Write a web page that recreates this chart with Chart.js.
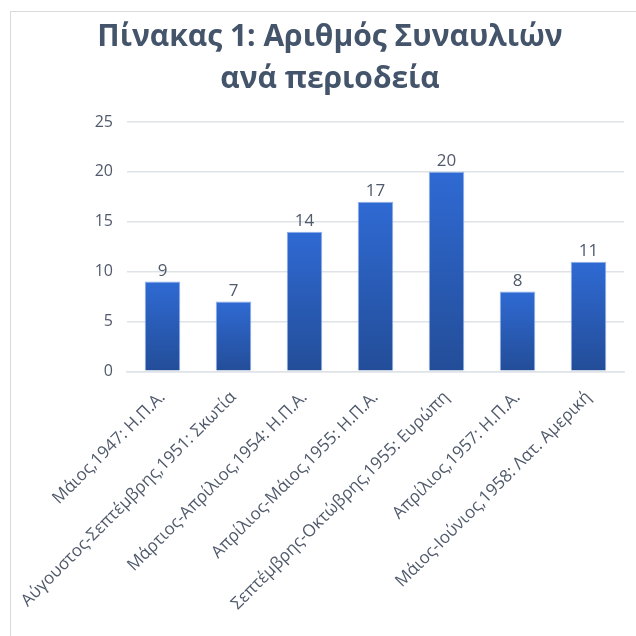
<!DOCTYPE html>
<html>
<head>
<meta charset="utf-8">
<script src="https://cdn.jsdelivr.net/npm/chart.js@4"></script>
<style>
  html, body { margin: 0; padding: 0; background: #fff; }
  #wrap { position: relative; width: 636px; height: 636px; }
  #frame { position: absolute; left: 10px; top: 11px; right: 0; bottom: 0; border-top: 1px solid #d9d9d9; border-left: 1px solid #d9d9d9; }
  canvas { position: absolute; left: 0; top: 0; }
</style>
</head>
<body>
<div id="wrap">
  <div id="frame"></div>
  <canvas id="chart" width="636" height="636"></canvas>
</div>
<script>
// Περιοδείες και αριθμός συναυλιών
const tours = [
  "Μάιος,1947: Η.Π.Α.",
  "Αύγουστος-Σεπτέμβρης,1951: Σκωτία",
  "Μάρτιος-Απρίλιος,1954: Η.Π.Α.",
  "Απρίλιος-Μάιος,1955: Η.Π.Α.",
  "Σεπτέμβρης-Οκτώβρης,1955: Ευρώπη",
  "Απρίλιος,1957: Η.Π.Α.",
  "Μάιος-Ιούνιος,1958: Λατ. Αμερική"
];
const concerts = [9, 7, 14, 17, 20, 8, 11];
const titleLines = ["Πίνακας 1: Αριθμός Συναυλιών", "ανά περιοδεία"];

const textColor = "#505a6b";
const fontFamily = "'Open Sans', 'Noto Sans', sans-serif";

// κάθε στήλη έχει δικό της gradient (πάνω ανοιχτό, κάτω σκούρο)
function barGradient(c) {
  const chart = c.chart;
  if (!chart.chartArea || c.type !== "data") return "#2b62c4";
  const y = chart.scales.y;
  const top = y.getPixelForValue(c.parsed.y);
  const bot = y.getPixelForValue(0);
  const g = chart.ctx.createLinearGradient(0, top, 0, bot);
  g.addColorStop(0, "#2f6ad3");
  g.addColorStop(1, "#234d98");
  return g;
}

// ετικέτες τιμών πάνω από τις στήλες
const valueLabels = {
  id: "valueLabels",
  afterDatasetsDraw(chart) {
    const ctx = chart.ctx;
    const meta = chart.getDatasetMeta(0);
    ctx.save();
    ctx.font = "17px " + fontFamily;
    ctx.fillStyle = textColor;
    ctx.textAlign = "center";
    ctx.textBaseline = "bottom";
    meta.data.forEach((el, i) => {
      ctx.fillText(String(concerts[i]), el.x, el.y - 2);
    });
    ctx.restore();
  }
};

new Chart(document.getElementById("chart").getContext("2d"), {
  type: "bar",
  data: {
    labels: tours,
    datasets: [{
      data: concerts,
      backgroundColor: barGradient,
      borderColor: "rgba(130,165,230,0.9)",
      borderWidth: 1,
      categoryPercentage: 1,
      barPercentage: 0.5
    }]
  },
  options: {
    responsive: false,
    animation: false,
    layout: { padding: { left: 36, right: 12, top: 16, bottom: 6 } },
    plugins: {
      legend: { display: false },
      tooltip: { enabled: false },
      title: {
        display: true,
        text: titleLines,
        color: "#44546a",
        font: { family: fontFamily, size: 30, weight: "bold", lineHeight: 1.4 },
        padding: { top: 0, bottom: 22 }
      }
    },
    scales: {
      y: {
        min: 0,
        max: 25,
        afterFit: (s) => { s.width = 91; },
        ticks: { stepSize: 5, color: textColor, padding: 14, font: { family: fontFamily, size: 16 } },
        grid: { color: "#dfe3e8", lineWidth: 1.5, drawTicks: false },
        border: { display: false }
      },
      x: {
        ticks: { color: textColor, minRotation: 45, maxRotation: 45, padding: 16, font: { family: fontFamily, size: 17 } },
        grid: { display: false, drawTicks: false },
        border: { color: "#dfe3e8", width: 1.5 }
      }
    }
  },
  plugins: [valueLabels]
});
</script>
</body>
</html>
